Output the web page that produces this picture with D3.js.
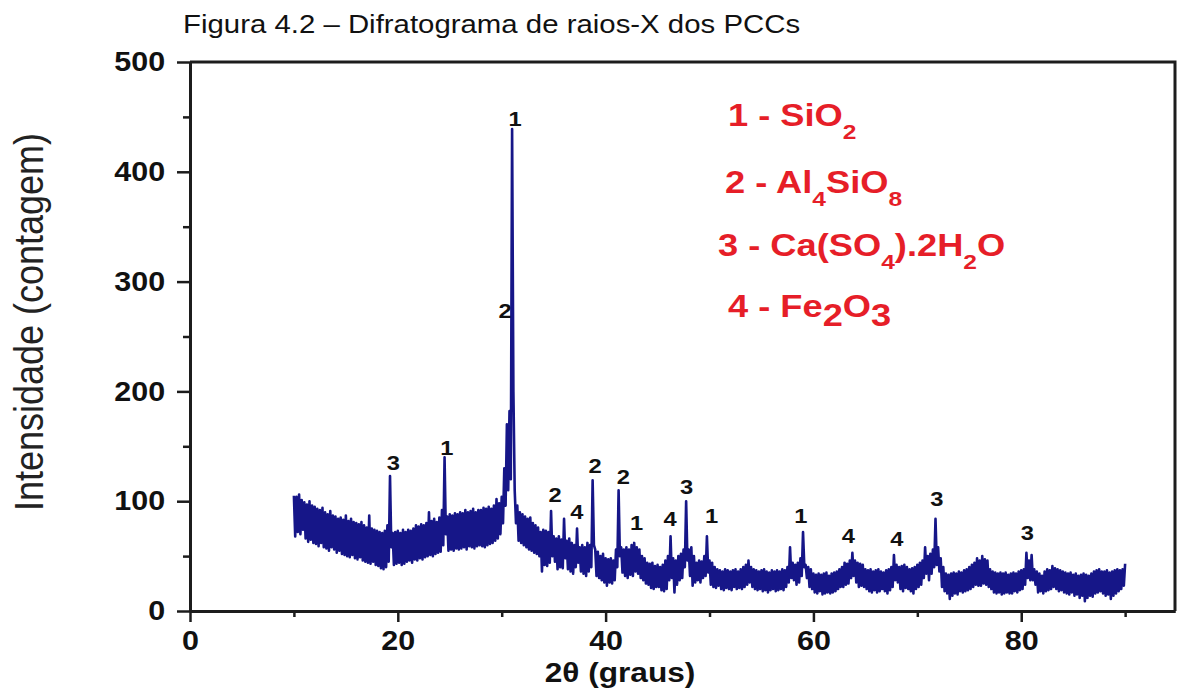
<!DOCTYPE html>
<html>
<head>
<meta charset="utf-8">
<script src="https://cdn.jsdelivr.net/npm/d3@7"></script>
<style>
  body { margin: 0; background: #fff; }
  text { font-family: 'Liberation Sans', Arial, sans-serif; }
</style>
</head>
<body>
<svg id="chart"></svg>
<script>
// diffractogram, 2theta from 10 to 90 deg, one reading every 0.125 deg (8 per row)
const startAngle = 10
const stepAngle = 0.125
const counts = [
  105, 68, 104, 72, 106, 70, 101, 74,   // 10
  99, 66, 97, 63, 100, 65, 96, 62,      // 11
  95, 61, 93, 59, 92, 62, 94, 58,       // 12
  90, 57, 88, 55, 91, 58, 87, 56,       // 13
  86, 53, 84, 55, 85, 52, 83, 51,       // 14
  87, 50, 82, 49, 84, 51, 81, 48,       // 15
  80, 47, 79, 49, 81, 46, 78, 45,       // 16
  76, 44, 87, 43, 75, 45, 74, 42,       // 17
  73, 41, 72, 39, 71, 38, 73, 40,       // 18
  78, 45, 123, 58, 71, 42, 72, 43,      // 19
  73, 44, 71, 42, 74, 43, 72, 45,       // 20
  74, 46, 73, 44, 75, 47, 78, 46,       // 21
  77, 48, 79, 47, 78, 49, 80, 50,       // 22
  90, 51, 82, 50, 84, 52, 81, 53,       // 23
  85, 54, 92, 60, 140, 70, 86, 55,      // 24
  88, 56, 87, 55, 89, 57, 88, 56,       // 25
  90, 57, 89, 58, 92, 56, 90, 59,       // 26
  91, 58, 93, 57, 90, 59, 92, 60,       // 27
  92, 59, 94, 58, 93, 60, 95, 61,       // 28
  93, 62, 96, 64, 102, 66, 98, 70,      // 29
  104, 80, 130, 96, 170, 110, 182, 120, // 30
  439, 200, 110, 80, 96, 64, 90, 62,    // 31
  88, 60, 86, 58, 84, 56, 85, 55,       // 32
  80, 53, 78, 52, 76, 50, 72, 36,       // 33
  74, 42, 73, 41, 72, 44, 91, 50,       // 34
  68, 45, 66, 38, 68, 40, 65, 39,       // 35
  84, 48, 64, 38, 66, 36, 62, 34,       // 36
  60, 40, 75, 44, 58, 36, 60, 34,       // 37
  58, 32, 62, 36, 60, 40, 119, 60,      // 38
  56, 32, 54, 30, 50, 28, 52, 26,       // 39
  48, 23, 47, 26, 48, 25, 46, 28,       // 40
  56, 40, 110, 50, 58, 35, 56, 32,      // 41
  58, 30, 56, 33, 60, 32, 62, 36,       // 42
  58, 34, 56, 30, 50, 28, 48, 25,       // 43
  44, 24, 43, 21, 44, 20, 41, 22,       // 44
  42, 22, 40, 19, 42, 18, 46, 20,       // 45
  50, 28, 68, 30, 48, 17, 46, 24,       // 46
  50, 28, 52, 30, 56, 40, 100, 46,      // 47
  56, 32, 58, 23, 50, 26, 44, 28,       // 48
  46, 26, 45, 30, 50, 32, 68, 35,       // 49
  46, 24, 44, 22, 40, 21, 38, 23,       // 50
  37, 20, 36, 19, 38, 21, 37, 20,       // 51
  36, 19, 37, 22, 38, 20, 36, 21,       // 52
  38, 20, 40, 22, 42, 24, 46, 26,       // 53
  40, 22, 38, 20, 37, 19, 36, 20,       // 54
  37, 18, 38, 19, 36, 17, 35, 19,       // 55
  37, 20, 36, 18, 37, 19, 36, 20,       // 56
  38, 19, 37, 22, 40, 26, 58, 30,       // 57
  44, 28, 42, 24, 44, 26, 48, 32,       // 58
  72, 40, 42, 30, 40, 22, 38, 20,       // 59
  34, 17, 33, 16, 34, 18, 33, 15,       // 60
  34, 16, 35, 17, 32, 16, 34, 17,       // 61
  35, 18, 36, 20, 38, 22, 40, 22,       // 62
  44, 24, 43, 25, 46, 30, 53, 32,       // 63
  46, 26, 44, 22, 43, 23, 42, 22,       // 64
  38, 20, 37, 18, 38, 17, 36, 19,       // 65
  37, 17, 38, 18, 36, 20, 35, 18,       // 66
  37, 16, 38, 19, 40, 22, 51, 28,       // 67
  42, 26, 40, 20, 41, 18, 42, 21,       // 68
  40, 20, 38, 18, 39, 16, 40, 20,       // 69
  42, 22, 44, 24, 46, 30, 58, 34,       // 70
  50, 28, 52, 34, 56, 40, 84, 42,       // 71
  58, 36, 48, 22, 40, 18, 34, 16,       // 72
  33, 11, 34, 14, 35, 16, 34, 15,       // 73
  36, 18, 35, 17, 37, 18, 38, 19,       // 74
  40, 20, 42, 22, 44, 24, 48, 23,       // 75
  46, 23, 50, 25, 47, 24, 46, 22,       // 76
  38, 20, 36, 17, 35, 16, 34, 17,       // 77
  35, 15, 34, 16, 35, 17, 33, 16,       // 78
  34, 16, 35, 18, 34, 17, 36, 19,       // 79
  37, 20, 38, 24, 53, 30, 46, 28,       // 80
  51, 28, 38, 24, 36, 17, 34, 18,       // 81
  32, 16, 36, 18, 38, 19, 37, 20,       // 82
  41, 22, 39, 20, 38, 18, 37, 19,       // 83
  36, 17, 35, 16, 34, 15, 35, 17,       // 84
  33, 14, 34, 15, 32, 12, 33, 14,       // 85
  34, 9, 33, 12, 32, 14, 34, 13,        // 86
  36, 16, 37, 17, 38, 18, 36, 16,       // 87
  36, 14, 37, 15, 35, 11, 36, 14,       // 88
  37, 16, 38, 18, 37, 20, 38, 23,       // 89
  43                                    // 90
]

const xMajorTicks = [0, 20, 40, 60, 80]
const xMinorTicks = [10, 30, 50, 70, 90]
const yMajorTicks = [0, 100, 200, 300, 400, 500]
const yMinorTicks = [50, 150, 250, 350, 450]

// phase numbers written over the peaks
const peakAngles = [19.57, 24.71, 31.28, 30.32, 35.13, 37.22, 38.98, 41.7, 42.99, 46.2, 47.8, 50.21, 58.78, 63.36, 68.02, 71.87, 80.59]
const peakCounts = [128, 142, 442, 267, 99, 84, 126, 116, 74, 77, 107, 80, 80, 62, 59, 96, 65]
const peakNames = ['3', '1', '1', '2', '2', '4', '2', '2', '1', '4', '3', '1', '1', '4', '4', '3', '3']

// legend: [text, 0 = normal, 1 = subscript, 2 = lowered digit]
const legendRows = [
  [['1 - SiO', 0], ['2', 1]],
  [['2 - Al', 0], ['4', 1], ['SiO', 0], ['8', 1]],
  [['3 - Ca(SO', 0], ['4', 1], [').2H', 0], ['2', 1], ['O', 0]],
  [['4 - Fe', 0], ['2', 2], ['O', 0], ['3', 2]],
]

const titleText = 'Figura 4.2 – Difratograma de raios-X dos PCCs'
const xTitle = '2θ (graus)'
const yTitle = 'Intensidade (contagem)'

const width = 1178
const height = 689
const margin = { top: 62, right: 3, bottom: 78, left: 190 }
const sx = 1.13 // the picture is a bit wider than tall
const ink = '#1c1c1c'
const traceColor = '#161688'
const legendColor = '#e61e28'

const svg = d3.select('#chart').attr('width', width).attr('height', height)
svg.append('rect').attr('width', width).attr('height', height).attr('fill', '#fff')

const xScale = d3.scaleLinear().domain([0, 94.8]).range([margin.left, width - margin.right])
const yScale = d3.scaleLinear().domain([0, 500]).range([height - margin.bottom, margin.top])

const points = counts.map((c, i) => [startAngle + i * stepAngle, c])

// trace
svg.append('path')
  .datum(points)
  .attr('fill', 'none')
  .attr('stroke', traceColor)
  .attr('stroke-width', 2.6)
  .attr('stroke-linejoin', 'round')
  .attr('d', d3.line().x((d) => xScale(d[0])).y((d) => yScale(d[1])))

// frame top and right
const [x0, x1] = xScale.range()
const [y0, y1] = yScale.range()
svg.append('path')
  .attr('d', `M${x0},${y1}H${x1}V${y0}`)
  .attr('fill', 'none')
  .attr('stroke', ink)
  .attr('stroke-width', 3)

const styleAxis = (g) => {
  g.select('.domain').attr('stroke', ink).attr('stroke-width', 3)
  g.selectAll('.tick line').attr('stroke', ink).attr('stroke-width', 2.5)
  g.selectAll('.tick text')
    .attr('fill', '#111')
    .style('font-size', '27px')
    .style('font-weight', 'bold')
    .attr('transform', `scale(${sx},1)`)
}

svg.append('g')
  .attr('transform', `translate(0,${y0})`)
  .call(d3.axisBottom(xScale).tickValues(xMinorTicks).tickSize(6).tickSizeOuter(0).tickFormat(''))
  .call(styleAxis)
svg.append('g')
  .attr('transform', `translate(0,${y0})`)
  .call(d3.axisBottom(xScale).tickValues(xMajorTicks).tickSize(11).tickSizeOuter(0).tickPadding(9))
  .call(styleAxis)

svg.append('g')
  .attr('transform', `translate(${x0},0)`)
  .call(d3.axisLeft(yScale).tickValues(yMinorTicks).tickSize(7).tickSizeOuter(0).tickFormat(''))
  .call(styleAxis)
svg.append('g')
  .attr('transform', `translate(${x0},0)`)
  .call(d3.axisLeft(yScale).tickValues(yMajorTicks).tickSize(13).tickSizeOuter(0).tickPadding(9))
  .call(styleAxis)

// titles
svg.append('text')
  .attr('transform', `translate(183,33) scale(${sx},1)`)
  .style('font-size', '26px')
  .attr('fill', '#111')
  .text(titleText)

svg.append('text')
  .attr('transform', `translate(620,682) scale(${sx},1)`)
  .attr('text-anchor', 'middle')
  .style('font-size', '28px')
  .style('font-weight', 'bold')
  .attr('fill', '#111')
  .text(xTitle)

svg.append('text')
  .attr('transform', `translate(43,322) scale(${sx},1) rotate(-90)`)
  .attr('text-anchor', 'middle')
  .style('font-size', '36px')
  .attr('fill', '#222')
  .text(yTitle)

// peak numbers
svg.append('g')
  .selectAll('text')
  .data(peakNames)
  .enter()
  .append('text')
  .attr('transform', (d, i) => `translate(${xScale(peakAngles[i])},${yScale(peakCounts[i])}) scale(${sx},1)`)
  .attr('text-anchor', 'middle')
  .style('font-size', '21px')
  .style('font-weight', 'bold')
  .attr('fill', '#111')
  .text((d) => d)

// legend
const legendX = [728, 725, 718, 728]
const legendY = [126, 193, 256, 317]
legendRows.forEach((row, r) => {
  const t = svg.append('text')
    .attr('transform', `translate(${legendX[r]},${legendY[r]}) scale(1.17,1)`)
    .style('font-size', '31px')
    .style('font-weight', 'bold')
    .attr('fill', legendColor)
  let shift = 0
  row.forEach(([s, kind]) => {
    const dy = kind === 1 ? 13 : kind === 2 ? 9 : 0
    t.append('tspan')
      .attr('dy', dy - shift)
      .style('font-size', kind === 1 ? '21px' : '31px')
      .text(s)
    shift = dy
  })
})
</script>
</body>
</html>
